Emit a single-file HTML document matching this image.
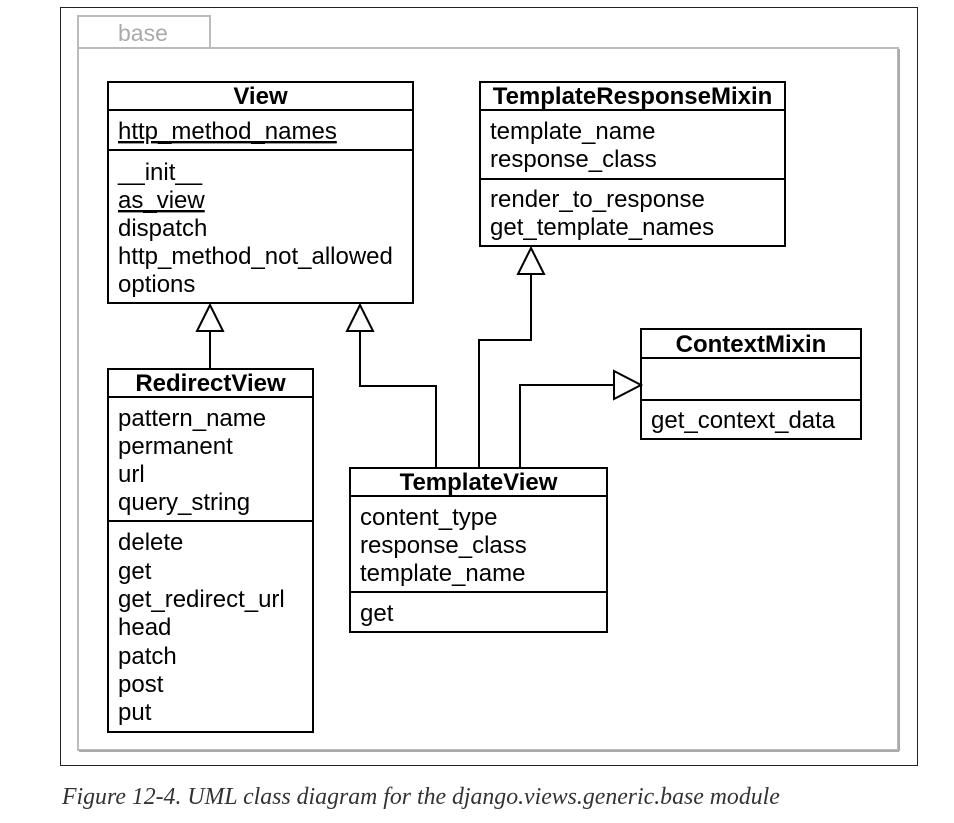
<!DOCTYPE html>
<html><head><style>
html,body{margin:0;padding:0;background:#fff;}
svg text{font-family:"Liberation Sans",Arial,sans-serif;font-size:24px;fill:#000;}
svg text.b{font-weight:bold;}
</style></head><body>
<svg width="954" height="818" viewBox="0 0 954 818" xmlns="http://www.w3.org/2000/svg">
<rect x="60.5" y="7.5" width="857" height="758" fill="none" stroke="#222" stroke-width="1"/>
<rect x="78" y="16" width="132" height="32" fill="none" stroke="#bbb" stroke-width="2"/>
<text x="118" y="41" style="fill:#aaa;font-size:23px">base</text>
<rect x="78" y="48" width="820" height="702" fill="none" stroke="#bbb" stroke-width="2"/>
<line x1="899" y1="49" x2="899" y2="751" stroke="#aaa" stroke-width="2"/>
<line x1="79" y1="751" x2="899" y2="751" stroke="#aaa" stroke-width="2"/>

<g fill="none" stroke="#000" stroke-width="2">
<rect x="108" y="82" width="305" height="221" fill="#fff"/>
<line x1="108" y1="110" x2="413" y2="110"/><line x1="108" y1="150" x2="413" y2="150"/>
<rect x="480" y="82" width="305" height="164" fill="#fff"/>
<line x1="480" y1="110" x2="785" y2="110"/><line x1="480" y1="179" x2="785" y2="179"/>
<rect x="108" y="369" width="205" height="363" fill="#fff"/>
<line x1="108" y1="397" x2="313" y2="397"/><line x1="108" y1="521" x2="313" y2="521"/>
<rect x="641" y="329" width="220" height="110" fill="#fff"/>
<line x1="641" y1="358" x2="861" y2="358"/><line x1="641" y1="400" x2="861" y2="400"/>
<rect x="350" y="468" width="257" height="164" fill="#fff"/>
<line x1="350" y1="496" x2="607" y2="496"/><line x1="350" y1="592" x2="607" y2="592"/>
<polyline points="210,369 210,331"/>
<polygon points="210,305 197,331 223,331" fill="#fff"/>
<polyline points="436,468 436,386 360,386 360,331"/>
<polygon points="360,305 347,331 373,331" fill="#fff"/>
<polyline points="479,468 479,340 531,340 531,274"/>
<polygon points="531,248 518,274 544,274" fill="#fff"/>
<polyline points="520,468 520,385 614,385"/>
<polygon points="641,385 614,371 614,399" fill="#fff"/>
</g>

<text class="b" x="260.5" y="104" text-anchor="middle">View</text>
<text x="118" y="139" text-decoration="underline">http_method_names</text>
<text x="118" y="180">__init__</text>
<text x="118" y="208" text-decoration="underline">as_view</text>
<text x="118" y="236">dispatch</text>
<text x="118" y="264">http_method_not_allowed</text>
<text x="118" y="292">options</text>

<text class="b" x="632.5" y="104" text-anchor="middle">TemplateResponseMixin</text>
<text x="490" y="139">template_name</text>
<text x="490" y="167">response_class</text>
<text x="490" y="207">render_to_response</text>
<text x="490" y="235">get_template_names</text>

<text class="b" x="210.5" y="391" text-anchor="middle">RedirectView</text>
<text x="118" y="426">pattern_name</text>
<text x="118" y="454">permanent</text>
<text x="118" y="482">url</text>
<text x="118" y="510">query_string</text>
<text x="118" y="550">delete</text>
<text x="118" y="579">get</text>
<text x="118" y="607">get_redirect_url</text>
<text x="118" y="635">head</text>
<text x="118" y="664">patch</text>
<text x="118" y="692">post</text>
<text x="118" y="720">put</text>

<text class="b" x="751" y="352" text-anchor="middle">ContextMixin</text>
<text x="651" y="428">get_context_data</text>

<text class="b" x="478.5" y="490" text-anchor="middle">TemplateView</text>
<text x="360" y="525">content_type</text>
<text x="360" y="553">response_class</text>
<text x="360" y="581">template_name</text>
<text x="360" y="621">get</text>

<text x="62" y="804" style="font-family:'Liberation Serif',serif;font-style:italic;font-size:23.8px;fill:#333">Figure 12-4. UML class diagram for the django.views.generic.base module</text>
</svg>
</body></html>
